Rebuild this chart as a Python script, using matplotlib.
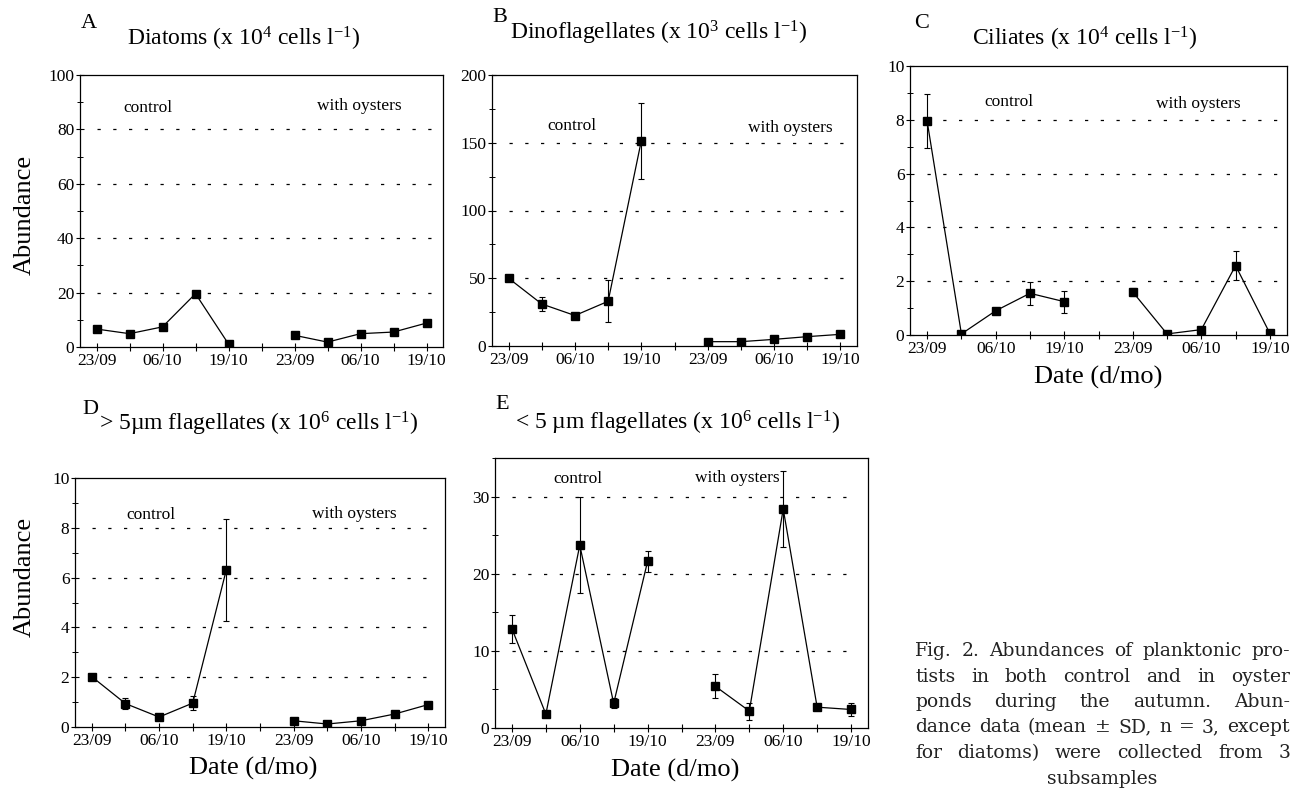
import matplotlib
matplotlib.use("Agg")
import matplotlib.pyplot as plt
from matplotlib.ticker import MultipleLocator

plt.rcParams["font.family"] = ["Liberation Serif", "DejaVu Serif"]
plt.rcParams["mathtext.fontset"] = "custom"
plt.rcParams["mathtext.rm"] = "Liberation Serif"
plt.rcParams["mathtext.it"] = "Liberation Serif:italic"

# sampling dates, same five for each treatment
date_labels = ["23/09", "", "06/10", "", "19/10"]
x_control = [0, 1, 2, 3, 4]
x_oysters = [6, 7, 8, 9, 10]

# A: diatoms (x 10^4 cells/l), no SD
diatoms_control = [6.6, 4.9, 7.4, 19.6, 1.1]
diatoms_oysters = [4.3, 1.8, 4.9, 5.5, 8.8]

# B: dinoflagellates (x 10^3 cells/l)
dino_control = [50, 31, 22.5, 33, 151.5]
dino_control_sd = [1, 5.5, 1.5, 15.5, 28]
dino_oysters = [3.2, 3.2, 4.9, 6.9, 8.6]
dino_oysters_sd = [0.5, 0.5, 0.8, 1.5, 1.2]

# C: ciliates (x 10^4 cells/l)
cil_control = [7.95, 0.04, 0.9, 1.55, 1.24]
cil_control_sd = [1.0, 0.05, 0.1, 0.42, 0.41]
cil_oysters = [1.6, 0.04, 0.2, 2.58, 0.06]
cil_oysters_sd = [0.15, 0.03, 0.05, 0.55, 0.03]

# D: > 5 um flagellates (x 10^6 cells/l)
big_control = [2.02, 0.94, 0.4, 0.96, 6.32]
big_control_sd = [0.08, 0.22, 0.05, 0.28, 2.05]
big_oysters = [0.25, 0.12, 0.25, 0.52, 0.9]
big_oysters_sd = [0.05, 0.03, 0.05, 0.05, 0.05]

# E: < 5 um flagellates (x 10^6 cells/l)
small_control = [12.86, 1.8, 23.7, 3.2, 21.6]
small_control_sd = [1.8, 0.2, 6.2, 0.65, 1.35]
small_oysters = [5.4, 2.2, 28.4, 2.7, 2.4]
small_oysters_sd = [1.55, 1.1, 4.9, 0.2, 0.8]

W, H = 1296, 790
fig = plt.figure(figsize=(W / 100, H / 100), dpi=100)


def px_axes(left, right, top, bottom):
    return fig.add_axes([left / W, 1 - bottom / H, (right - left) / W, (bottom - top) / H])


def panel(ax, ctrl, ctrl_sd, oys, oys_sd, ymax, major, minor, txt_ctrl, txt_oys):
    for xs, ys, sd in ((x_control, ctrl, ctrl_sd), (x_oysters, oys, oys_sd)):
        ax.errorbar(xs, ys, yerr=sd, color="black", lw=0.9, elinewidth=0.8,
                    capsize=2.2, capthick=0.8, marker="s", ms=5.5,
                    mfc="black", mec="black", zorder=3)
    for y in range(major, int(ymax) + 1, major):
        if y < ymax:
            ax.hlines(y, 0, 10.2, colors="black", lw=0.9,
                      linestyles=(0, (2.6, 10)), zorder=1)
    ax.set_xlim(-0.5, 10.5)
    ax.set_ylim(0, ymax)
    ax.set_xticks(range(11))
    ax.set_xticklabels(date_labels + [""] + date_labels)
    ax.yaxis.set_major_locator(MultipleLocator(major))
    ax.yaxis.set_minor_locator(MultipleLocator(minor))
    ax.tick_params(axis="both", which="major", direction="inout", length=6,
                   width=0.8, labelsize=12.5, pad=1)
    ax.tick_params(axis="y", which="minor", direction="inout", length=4, width=0.7)
    for s in ax.spines.values():
        s.set_linewidth(0.9)
    ax.text(txt_ctrl[0], txt_ctrl[1], "control", ha="center", va="center", fontsize=12.5)
    ax.text(txt_oys[0], txt_oys[1], "with oysters", ha="center", va="center", fontsize=12.5)


axA = px_axes(80, 443, 75, 347)
panel(axA, diatoms_control, None, diatoms_oysters, None, 100, 20, 10,
      (1.55, 88), (7.95, 88.7))
axB = px_axes(492, 857, 75, 346)
panel(axB, dino_control, dino_control_sd, dino_oysters, dino_oysters_sd, 200, 50, 25,
      (1.9, 162), (8.5, 161))
axC = px_axes(910, 1287, 66, 335)
panel(axC, cil_control, cil_control_sd, cil_oysters, cil_oysters_sd, 10, 2, 1,
      (2.4, 8.66), (7.9, 8.6))
axD = px_axes(75, 445, 478, 727)
panel(axD, big_control, big_control_sd, big_oysters, big_oysters_sd, 10, 2, 1,
      (1.76, 8.5), (7.8, 8.57))
axE = px_axes(495, 868, 458, 728)
panel(axE, small_control, small_control_sd, small_oysters, small_oysters_sd, 35, 10, 5,
      (1.94, 32.3), (6.64, 32.4))


def ftext(x, y, s, **kw):
    fig.text(x / W, 1 - y / H, s, **kw)


# panel letters and titles
ftext(89, 23, "A", ha="center", va="center", fontsize=16)
ftext(244, 39, r"Diatoms (x 10$^{4}$ cells l$^{\mathrm{-1}}$)", ha="center", va="center", fontsize=17)
ftext(500, 17, "B", ha="center", va="center", fontsize=16)
ftext(659, 33, r"Dinoflagellates (x 10$^{3}$ cells l$^{\mathrm{-1}}$)", ha="center", va="center", fontsize=17)
ftext(922, 23, "C", ha="center", va="center", fontsize=16)
ftext(1085, 39, r"Ciliates (x 10$^{4}$ cells l$^{\mathrm{-1}}$)", ha="center", va="center", fontsize=17)
ftext(90, 410, "D", ha="center", va="center", fontsize=16)
ftext(259, 424, r"> 5µm flagellates (x 10$^{6}$ cells l$^{\mathrm{-1}}$)", ha="center", va="center", fontsize=17)
ftext(502, 405, "E", ha="center", va="center", fontsize=16)
ftext(677, 423, r"< 5 µm flagellates (x 10$^{6}$ cells l$^{\mathrm{-1}}$)", ha="center", va="center", fontsize=17)

# axis titles
ftext(25, 215, "Abundance", ha="center", va="center", rotation=90, fontsize=19)
ftext(25, 577, "Abundance", ha="center", va="center", rotation=90, fontsize=19)
ftext(1098, 377, "Date (d/mo)", ha="center", va="center", fontsize=19)
ftext(253, 768, "Date (d/mo)", ha="center", va="center", fontsize=19)
ftext(675, 770, "Date (d/mo)", ha="center", va="center", fontsize=19)

# justified caption
caption_lines = [
    "Fig. 2. Abundances of planktonic pro-",
    "tists in both control and in oyster",
    "ponds during the autumn. Abun-",
    "dance data (mean ± SD, n = 3, except",
    "for diatoms) were collected from 3",
]
caption_last = "subsamples"
cap_left, cap_right = 915, 1290
cap_y0, cap_dy = 651, 25.5
cap_size = 13.5
renderer = fig.canvas.get_renderer()
for i, line in enumerate(caption_lines):
    y = cap_y0 + i * cap_dy
    words = line.split(" ")
    texts = [fig.text(0, 1 - y / H, w, ha="left", va="center", fontsize=cap_size,
                      family="DejaVu Serif", color="#222222") for w in words]
    widths = [t.get_window_extent(renderer).width for t in texts]
    gap = (cap_right - cap_left - sum(widths)) / (len(words) - 1)
    x = cap_left
    for t, wd in zip(texts, widths):
        t.set_x(x / W)
        x += wd + gap
ftext((cap_left + cap_right) / 2, cap_y0 + len(caption_lines) * cap_dy, caption_last,
      ha="center", va="center", fontsize=cap_size, family="DejaVu Serif", color="#222222")

fig.savefig("out.png", dpi=100)
